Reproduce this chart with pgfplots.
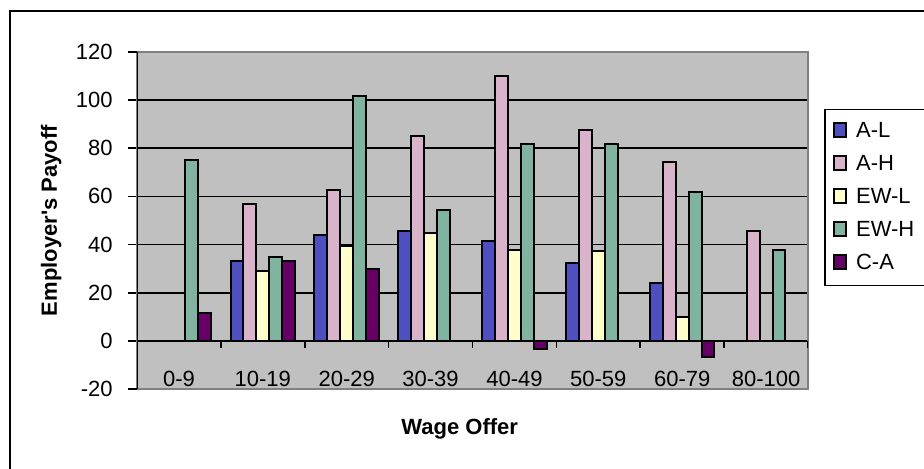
\documentclass[border=0pt]{standalone}
\usepackage{fontspec}
\setmainfont{Liberation Sans}
\usepackage{pgfplots}
\pgfplotsset{compat=1.18}
\definecolor{cAL}{HTML}{4F4FBF}
\definecolor{cAH}{HTML}{D9B3C9}
\definecolor{cEWL}{HTML}{FFFFCC}
\definecolor{cEWH}{HTML}{80B4A0}
\definecolor{cCA}{HTML}{660066}
\definecolor{plotbg}{HTML}{C0C0C0}
\definecolor{frameg}{HTML}{808080}
\newcommand{\chartfont}{\fontsize{11}{13}\selectfont}
\begin{document}
\chartfont
\begin{tikzpicture}
\useasboundingbox (-68.5pt,-40pt) rectangle (393.5pt,194.5pt);
\draw[black, line width=1pt] (-63.5pt,-60pt) rectangle (420pt,189pt);
\begin{axis}[
  at={(0pt,0pt)}, anchor=south west,
  scale only axis, width=335.5pt, height=168.5pt,
  xmin=-0.5, xmax=7.5, ymin=-20, ymax=120,
  enlargelimits=false,
  ybar=0pt, bar width=6.46pt,
  axis background/.style={fill=plotbg},
  axis line style={draw=frameg, line width=0.7pt},
  tick align=outside,
  major tick length=4.5pt,
  xtick={0,...,7},
  xticklabels={0-9,10-19,20-29,30-39,40-49,50-59,60-79,80-100},
  x tick style={draw=none},
  xtick pos=bottom, ytick pos=left,
  ytick={0,20,...,100},
  extra y ticks={-20,120},
  extra y tick style={grid=none},
  y tick style={draw=black, line width=0.8pt},
  ymajorgrids,
  major grid style={black, line width=0.9pt},
  /pgf/number format/assume math mode=true,
  tick label style={font=\chartfont},
  xticklabel style={anchor=base, yshift=5.7pt},
  yticklabel style={inner sep=0pt, xshift=-7.5pt},
  xlabel={Wage Offer},
  ylabel={Employer\textquotesingle s Payoff},
  xlabel style={at={(axis description cs:0.481,-0.119)}, anchor=center, font=\bfseries\chartfont},
  ylabel style={at={(axis description cs:-0.128,0.5)}, anchor=center, font=\bfseries\chartfont},
  legend cell align=left,
  legend image code/.code={\draw[#1, draw=black, line width=0.9pt] (0.4pt,-2.7pt) rectangle (6.6pt,4.1pt);},
  legend style={at={(axis description cs:1.0238,0.832)}, anchor=north west,
    draw=black, line width=0.9pt, fill=white,
    inner xsep=4pt, inner ysep=6pt, row sep=6.5pt, column sep=3pt,
    font=\chartfont,
    nodes={font=\chartfont, inner xsep=1.5pt, inner ysep=0pt, text height=8pt, text depth=2pt}},
]
\addplot[draw=black, line width=1pt, fill=cAL] coordinates {(1,33.1) (2,43.8) (3,45.5) (4,41.3) (5,32.2) (6,24.0)};
\addplot[draw=black, line width=1pt, fill=cAH] coordinates {(1,57.0) (2,62.8) (3,85.1) (4,109.9) (5,87.5) (6,74.4) (7,45.5)};
\addplot[draw=black, line width=1pt, fill=cEWL] coordinates {(1,28.9) (2,39.4) (3,44.6) (4,37.9) (5,37.2) (6,9.9)};
\addplot[draw=black, line width=1pt, fill=cEWH] coordinates {(0,75.2) (1,34.7) (2,101.7) (3,54.5) (4,81.7) (5,81.7) (6,61.8) (7,37.9)};
\addplot[draw=black, line width=1pt, fill=cCA] coordinates {(0,11.6) (1,33.1) (2,29.8) (4,-3.3) (6,-6.6)};
\legend{A-L,A-H,EW-L,EW-H,C-A}
\draw[black, line width=0.9pt] (rel axis cs:0,0) -- (rel axis cs:0,1);
\pgfplotsinvokeforeach{-0.5,0.5,1.5,2.5,3.5,4.5,5.5,6.5,7.5}{
  \draw[black, line width=0.8pt] (axis cs:#1,0) -- ++(0pt,-3.5pt);
}
\end{axis}
\end{tikzpicture}
\end{document}
